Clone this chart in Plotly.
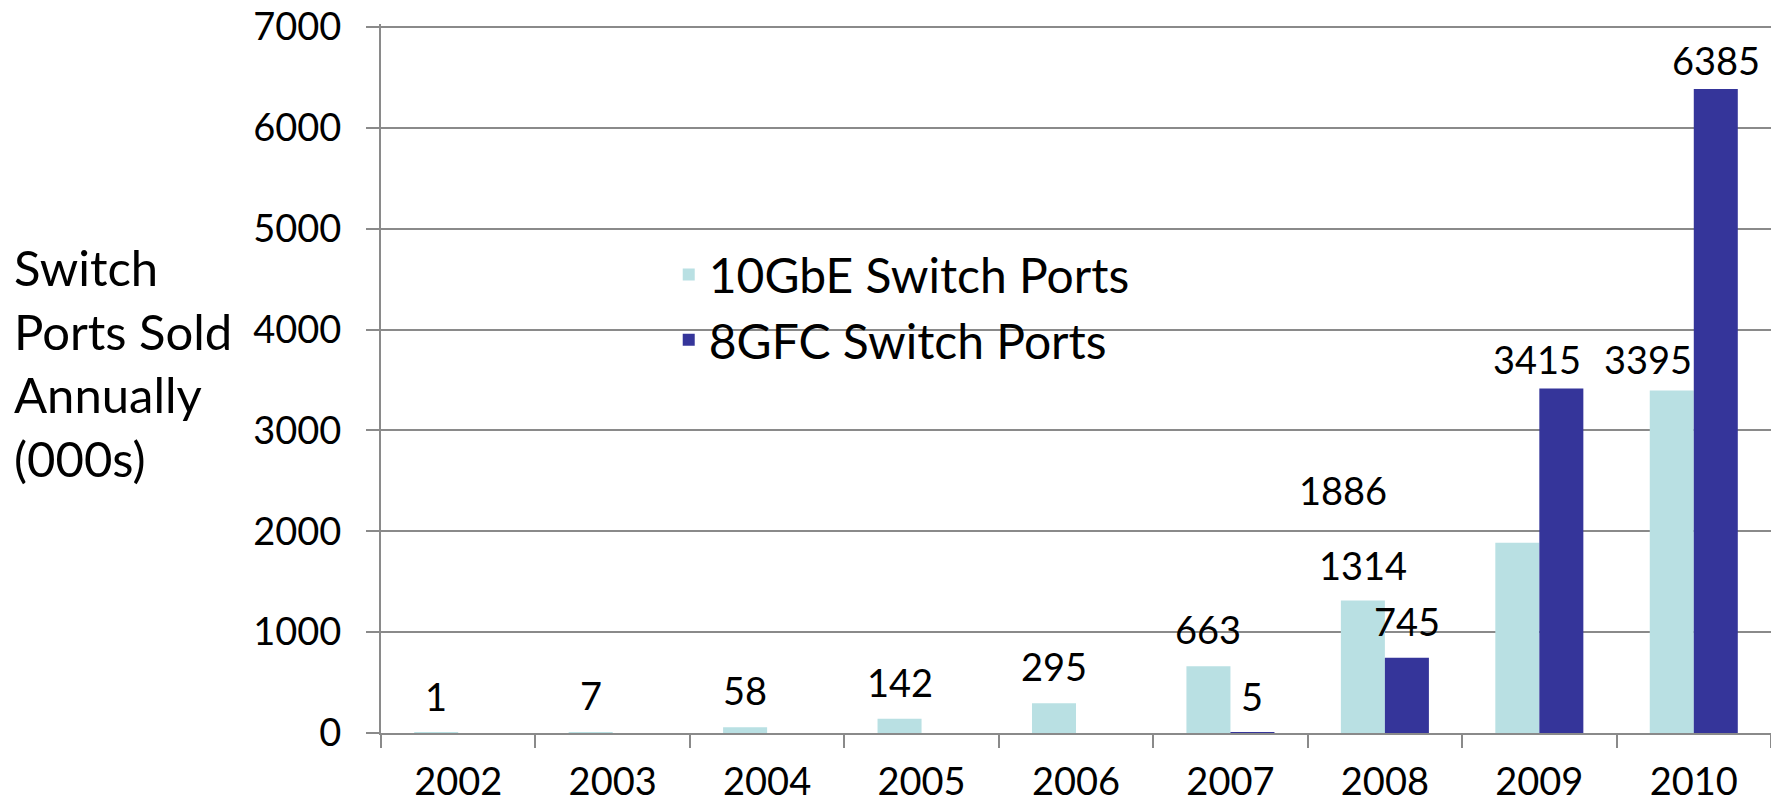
import plotly.graph_objects as go

years = ["2002", "2003", "2004", "2005", "2006", "2007", "2008", "2009", "2010"]
gbe_10 = [1, 7, 58, 142, 295, 663, 1314, 1886, 3395]
gfc_8 = [None, None, None, None, None, 5, 745, 3415, 6385]
series_names = ["10GbE Switch Ports", "8GFC Switch Ports"]
y_ticks = [0, 1000, 2000, 3000, 4000, 5000, 6000, 7000]
y_title_lines = ["Switch", "Ports Sold", "Annually", "(000s)"]

C_LIGHT = "#B9E0E3"
C_DARK = "#35359A"
GRID = "#8A8A8A"
FONT = "Lato, 'Open Sans', sans-serif"

BARGAP = 0.43
half = (1 - BARGAP) / 4  # center offset of each bar within a category

fig = go.Figure()
fig.add_trace(go.Bar(x=years, y=gbe_10, name=series_names[0],
                     marker=dict(color=C_LIGHT, line=dict(width=0))))
fig.add_trace(go.Bar(x=years, y=gfc_8, name=series_names[1],
                     marker=dict(color=C_DARK, line=dict(width=0))))

# label position tweaks (pixels) to mimic the reference's placement
BASE_YSHIFT = 12
tweak_gbe = {7: (-174, 16), 8: (-24, -5), 6: (0, -2)}
tweak_gfc = {7: (-24, -7), 8: (0, -8)}

annotations = []
for i, v in enumerate(gbe_10):
    if v is None:
        continue
    dx, dy = tweak_gbe.get(i, (0, 0))
    annotations.append(dict(x=i - half, y=v, xref="x", yref="y", text=str(v),
                            showarrow=False, xanchor="center", yanchor="bottom",
                            xshift=dx, yshift=BASE_YSHIFT + dy,
                            font=dict(family=FONT, size=38, color="black")))
for i, v in enumerate(gfc_8):
    if v is None:
        continue
    dx, dy = tweak_gfc.get(i, (0, 0))
    annotations.append(dict(x=i + half, y=v, xref="x", yref="y", text=str(v),
                            showarrow=False, xanchor="center", yanchor="bottom",
                            xshift=dx, yshift=BASE_YSHIFT + dy,
                            font=dict(family=FONT, size=38, color="black")))

annotations.append(dict(x=-0.2654, y=0.522, xref="paper", yref="paper",
                        text="<br>".join(y_title_lines), showarrow=False,
                        xanchor="left", yanchor="middle", align="left",
                        font=dict(family=FONT, size=49, color="black")))

fig.update_layout(
    width=1771, height=803,
    margin=dict(l=381, r=0, t=24, b=70, autoexpand=False),
    paper_bgcolor="white", plot_bgcolor="white",
    barmode="group", bargap=BARGAP, bargroupgap=0,
    font=dict(family=FONT, size=38, color="black"),
    showlegend=True,
    legend=dict(x=0.207, y=0.70, xanchor="left", yanchor="top",
                bgcolor="rgba(0,0,0,0)", font=dict(family=FONT, size=48, color="black"),
                traceorder="normal", itemsizing="constant"),
    annotations=annotations,
)
fig.update_xaxes(type="category", showgrid=False, showline=True, linecolor=GRID, linewidth=2,
                 ticks="outside", tickson="boundaries", ticklen=13, tickcolor=GRID, tickwidth=2,
                 tickfont=dict(family=FONT, size=38, color="black"), ticklabelstandoff=14,
                 automargin=False)
fig.update_yaxes(range=[0, 7030], tickvals=y_ticks, showgrid=True, gridcolor=GRID, gridwidth=2,
                 showline=True, linecolor=GRID, linewidth=2, zeroline=False,
                 ticks="outside", ticklen=13, tickcolor=GRID, tickwidth=2,
                 tickfont=dict(family=FONT, size=38, color="black"), ticklabelstandoff=17,
                 automargin=False)

# remove the default page margin so the figure fills the window exactly
fig.write_html("out.html", config={"displayModeBar": False},
               post_script="document.body.style.margin='0';document.body.style.padding='0';")
